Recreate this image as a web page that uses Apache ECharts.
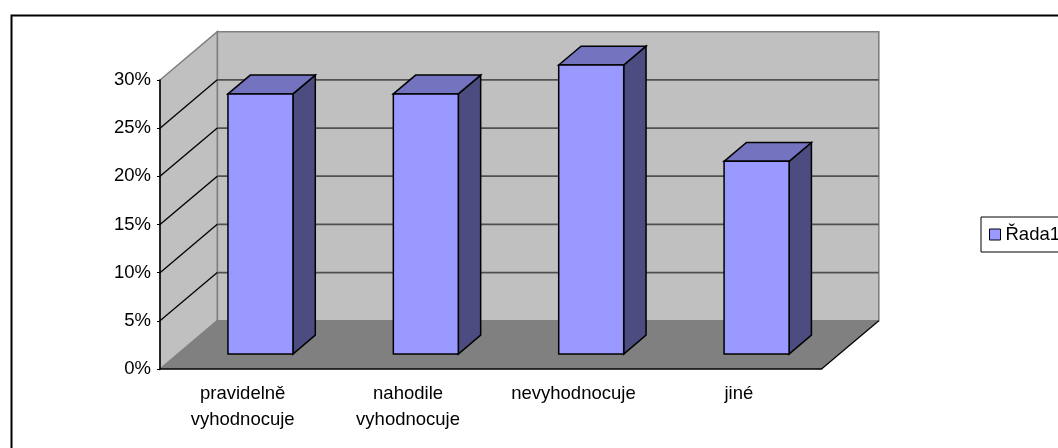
<!DOCTYPE html>
<html>
<head>
<meta charset="utf-8">
<script src="https://cdn.jsdelivr.net/npm/echarts@6/dist/echarts.min.js"></script>
<style>
  html, body { margin: 0; padding: 0; background: #fff; }
  #chart { width: 1058px; height: 448px; }
</style>
</head>
<body>
<div id="chart"></div>
<script>
// Survey answers and their shares
const categories = ['pravidelně\nvyhodnocuje', 'nahodile\nvyhodnocuje', 'nevyhodnocuje', 'jiné'];
const values = [0.27, 0.27, 0.30, 0.20];
const seriesName = 'Řada1';
// Value axis ticks (fractions, shown as percent)
const yTicks = [0, 0.05, 0.10, 0.15, 0.20, 0.25, 0.30];

// Oblique projection used for the 3D look (pixels per full depth)
const DX = 57.3, DY = -48.3;
// Column depth placement (fraction of full depth) and width (fraction of band)
const COL_FRONT = 0.31, COL_DEPTH = 0.39, COL_WIDTH = 0.393;

const FONT = '"Liberation Sans", Arial, sans-serif';
const FONT_SIZE = 18.5;

const chart = echarts.init(document.getElementById('chart'), null, { renderer: 'canvas' });

// Walls, floor and the gridlines on the back wall
function renderWalls(params, api) {
  const cs = params.coordSys;
  const x0 = cs.x, x1 = cs.x + cs.width;
  const yTop = api.coord([0, yTicks[yTicks.length - 1]])[1];
  const yBot = api.coord([0, yTicks[0]])[1];
  const children = [];
  // back wall
  children.push({ type: 'rect', shape: { x: x0 + DX, y: yTop + DY, width: x1 - x0, height: yBot - yTop },
    style: { fill: '#C0C0C0', stroke: '#808080', lineWidth: 1.6 } });
  // left side wall
  children.push({ type: 'polygon', shape: { points: [[x0, yTop], [x0 + DX, yTop + DY], [x0 + DX, yBot + DY], [x0, yBot]] },
    style: { fill: '#C0C0C0', stroke: '#808080', lineWidth: 1.6 } });
  // floor
  children.push({ type: 'polygon', shape: { points: [[x0, yBot], [x1, yBot], [x1 + DX, yBot + DY], [x0 + DX, yBot + DY]] },
    style: { fill: '#808080' } });
  // floor right edge
  children.push({ type: 'line', shape: { x1: x1, y1: yBot, x2: x1 + DX, y2: yBot + DY },
    style: { stroke: '#000', lineWidth: 1.2 } });
  // gridlines: back wall horizontals and side wall diagonals
  yTicks.forEach(function (t, k) {
    const y = api.coord([0, t])[1];
    if (k > 0 && k < yTicks.length - 1) {
      children.push({ type: 'line', shape: { x1: x0 + DX, y1: y + DY, x2: x1 + DX, y2: y + DY },
        style: { stroke: '#505050', lineWidth: 1.8 } });
      children.push({ type: 'line', shape: { x1: x0, y1: y, x2: x0 + DX, y2: y + DY },
        style: { stroke: '#000', lineWidth: 1.3 } });
    }
  });
  return { type: 'group', children: children };
}

// 3D columns: front face, right side and top
function renderColumn(params, api) {
  const idx = api.value(0);
  const val = api.value(1);
  const base = api.coord([idx, 0]);
  const topPt = api.coord([idx, val]);
  const bw = api.size([1, 0])[0] * COL_WIDTH;
  const ox = COL_FRONT * DX, oy = COL_FRONT * DY;
  const dx = COL_DEPTH * DX, dy = COL_DEPTH * DY;
  const L = base[0] - bw / 2 + ox, R = base[0] + bw / 2 + ox;
  const T = topPt[1] + oy, B = base[1] + oy;
  const edge = { stroke: '#000', lineWidth: 1.5, lineJoin: 'miter' };
  return {
    type: 'group',
    children: [
      { type: 'polygon', shape: { points: [[R, T], [R + dx, T + dy], [R + dx, B + dy], [R, B]] },
        style: Object.assign({ fill: '#4C4C80' }, edge) },
      { type: 'polygon', shape: { points: [[L, T], [L + dx, T + dy], [R + dx, T + dy], [R, T]] },
        style: Object.assign({ fill: '#7373BF' }, edge) },
      { type: 'rect', shape: { x: L, y: T, width: R - L, height: B - T },
        style: Object.assign({ fill: '#9999FF' }, edge) }
    ]
  };
}

const option = {
  animation: false,
  backgroundColor: '#fff',
  textStyle: { fontFamily: FONT },
  graphic: [
    { type: 'rect', left: 9, top: 13, z: 100, silent: true,
      shape: { width: 1200, height: 600 },
      style: { fill: 'none', stroke: '#000', lineWidth: 2 } }
  ],
  legend: {
    left: 981, top: 217,
    padding: [8, 60, 8, 8],
    itemWidth: 11, itemHeight: 11,
    borderColor: '#000', borderWidth: 1,
    backgroundColor: '#fff',
    textStyle: { fontSize: FONT_SIZE, lineHeight: 19, color: '#000', fontFamily: FONT },
    data: [{ name: seriesName, icon: 'rect',
      itemStyle: { color: '#9999FF', borderColor: '#000', borderWidth: 1 } }]
  },
  grid: { left: 160, top: 80, width: 661.5, height: 289, containLabel: false },
  xAxis: {
    type: 'category',
    data: categories,
    boundaryGap: true,
    axisLine: { lineStyle: { color: '#000', width: 1.5 } },
    axisTick: { length: 4, lineStyle: { color: '#000' }, alignWithLabel: false },
    axisLabel: { color: '#000', fontSize: FONT_SIZE, lineHeight: 26.5, margin: 11.5, fontFamily: FONT, interval: 0 },
    splitLine: { show: false },
    z: 10
  },
  yAxis: {
    type: 'value',
    min: 0, max: 0.3, interval: 0.05,
    axisLine: { show: true, lineStyle: { color: '#000', width: 1.5 } },
    axisTick: { show: true, length: 3, lineStyle: { color: '#000' } },
    axisLabel: { color: '#000', fontSize: FONT_SIZE, margin: 9, fontFamily: FONT,
      formatter: function (v) { return Math.round(v * 100) + '%'; } },
    splitLine: { show: false },
    z: 10
  },
  series: [
    { type: 'custom', name: '_walls', silent: true, clip: false, z: 1,
      renderItem: renderWalls, data: [[0, 0]], encode: { x: 0, y: 1 } },
    { type: 'custom', name: seriesName, clip: false, z: 5,
      itemStyle: { color: '#9999FF' },
      renderItem: renderColumn,
      data: values.map(function (v, i) { return [i, v]; }),
      encode: { x: 0, y: 1 } }
  ]
};

chart.setOption(option);
</script>
</body>
</html>
